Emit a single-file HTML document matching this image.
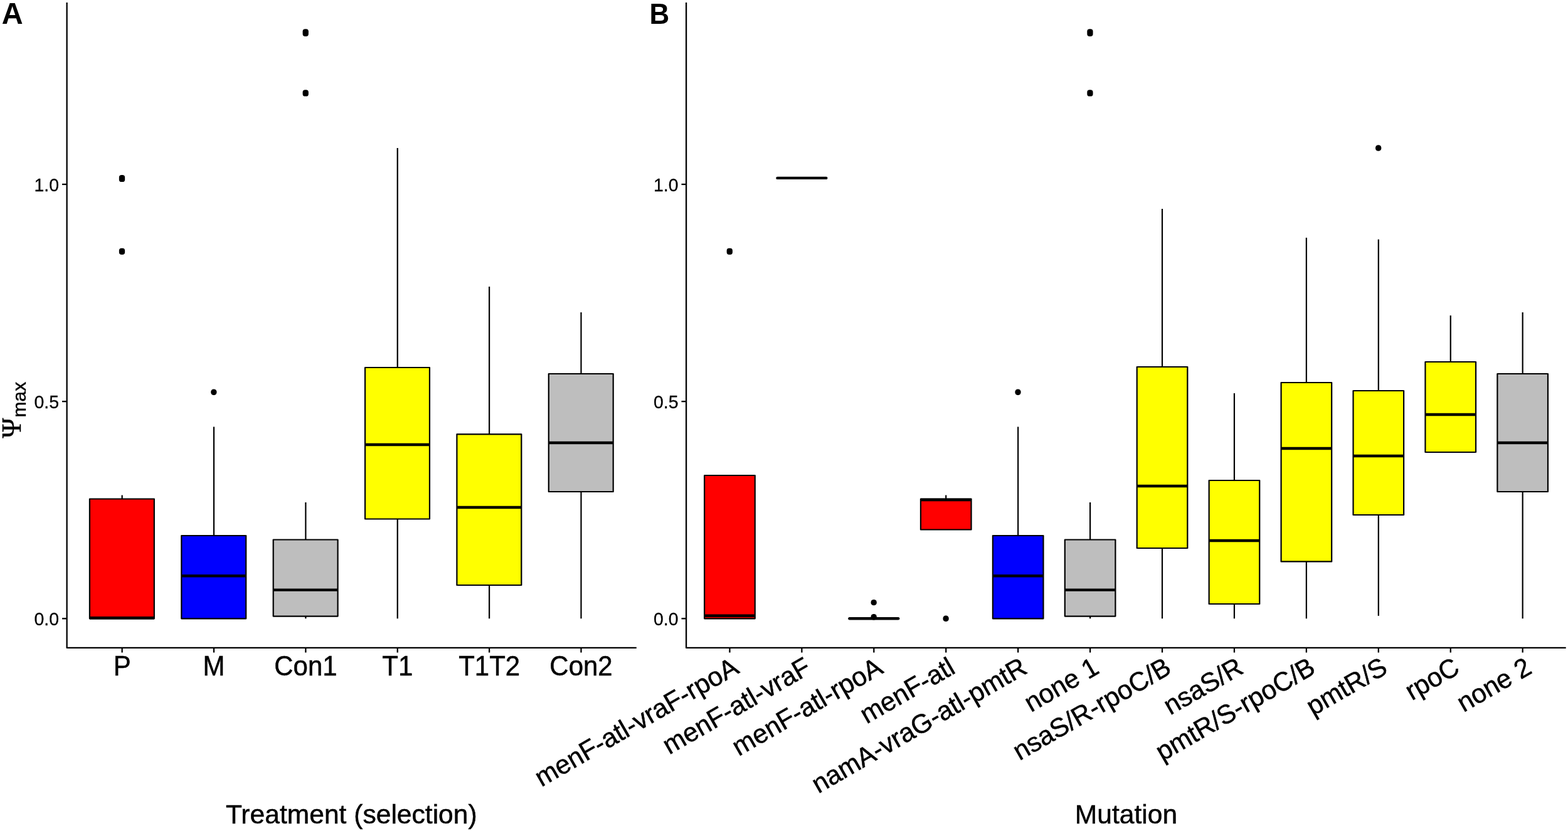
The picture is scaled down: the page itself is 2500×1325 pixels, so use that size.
<!DOCTYPE html>
<html lang="en">
<head>
<meta charset="utf-8">
<title>Figure: maximum Psi by treatment and by mutation</title>
<style>
html,body{margin:0;padding:0;background:#fff;}
body{width:2500px;height:1325px;overflow:hidden;}
svg{display:block;}
text{font-family:"Liberation Sans",sans-serif;fill:#000;}
.l{stroke:#000;stroke-width:2.2;fill:none;}
.b{stroke:#000;stroke-width:2.2;stroke-linejoin:round;}
.m{stroke:#000;stroke-width:4.4;}
.pt{fill:#000;}
.ax{stroke:#000;stroke-width:2.3;fill:none;stroke-linecap:butt;stroke-linejoin:round;}
.yt{font-size:28.5px;text-anchor:end;stroke:#000;stroke-width:0.25px;}
.xt{font-size:42.0px;text-anchor:middle;stroke:#000;stroke-width:0.5px;}
.xr{font-size:42.0px;text-anchor:end;stroke:#000;stroke-width:0.5px;}
.ttl{font-size:42.6px;text-anchor:middle;stroke:#000;stroke-width:0.5px;}
.tag{font-size:46.5px;font-weight:bold;}
.yl{text-anchor:middle;}
.psi{font-family:"Liberation Serif",serif;font-size:43.3px;stroke:#000;stroke-width:0.5px;}
.sub{font-size:30.0px;stroke:#000;stroke-width:0.4px;}
</style>
</head>
<body>
<svg width="2500" height="1325" viewBox="0 0 2500 1325">
<rect x="0" y="0" width="2500" height="1325" fill="#ffffff"/>

<g id="panelA">
<text class="tag" transform="translate(2.7,37.55) scale(1,1.012)" style="font-size:47px">A</text>
<polyline class="ax" points="106.65,4 106.65,1032.9 1014.8,1032.9"/>
<line class="ax" x1="99.05" y1="986.3" x2="106.65" y2="986.3"/>
<text class="yt" transform="translate(94.05,997.2) scale(1,1.015)">0.0</text>
<line class="ax" x1="99.05" y1="640.1" x2="106.65" y2="640.1"/>
<text class="yt" transform="translate(94.05,651) scale(1,1.015)">0.5</text>
<line class="ax" x1="99.05" y1="293.9" x2="106.65" y2="293.9"/>
<text class="yt" transform="translate(94.05,304.8) scale(1,1.015)">1.0</text>
<line class="ax" x1="194.65" y1="1032.9" x2="194.65" y2="1040.5"/>
<text class="xt" transform="translate(194.65,1077.2) scale(1,1.055)">P</text>
<line class="ax" x1="341.02" y1="1032.9" x2="341.02" y2="1040.5"/>
<text class="xt" transform="translate(341.02,1077.2) scale(1,1.055)">M</text>
<line class="ax" x1="487.39" y1="1032.9" x2="487.39" y2="1040.5"/>
<text class="xt" transform="translate(487.39,1077.2) scale(1,1.055)">Con1</text>
<line class="ax" x1="633.76" y1="1032.9" x2="633.76" y2="1040.5"/>
<text class="xt" transform="translate(633.76,1077.2) scale(1,1.055)">T1</text>
<line class="ax" x1="780.13" y1="1032.9" x2="780.13" y2="1040.5"/>
<text class="xt" transform="translate(780.13,1077.2) scale(1,1.055)">T1T2</text>
<line class="ax" x1="926.5" y1="1032.9" x2="926.5" y2="1040.5"/>
<text class="xt" transform="translate(926.5,1077.2) scale(1,1.055)">Con2</text>
<line x1="194.65" y1="789.5" x2="194.65" y2="795.5" class="l"/>
<rect x="142.95" y="795.5" width="102.9" height="190.8" fill="#ff0000" class="b"/>
<line x1="142.95" y1="985.2" x2="245.85" y2="985.2" class="m"/>
<rect x="189.85" y="279.1" width="9.3" height="11" rx="3.9" ry="3.9" class="pt"/>
<rect x="189.85" y="395.85" width="9.3" height="10.1" rx="3.9" ry="3.9" class="pt"/>
<line x1="341.02" y1="680.5" x2="341.02" y2="854" class="l"/>
<rect x="289.32" y="854" width="102.9" height="132.3" fill="#0000ff" class="b"/>
<line x1="289.32" y1="918.3" x2="392.22" y2="918.3" class="m"/>
<rect x="336.22" y="620.5" width="9.3" height="9.4" rx="4.3" ry="4.3" class="pt"/>
<line x1="487.39" y1="801" x2="487.39" y2="860.5" class="l"/>
<line x1="487.39" y1="982.6" x2="487.39" y2="986.3" class="l"/>
<rect x="435.69" y="860.5" width="102.9" height="122.1" fill="#bebebe" class="b"/>
<line x1="435.69" y1="940.6" x2="538.59" y2="940.6" class="m"/>
<rect x="482.59" y="46.3" width="9.3" height="11.6" rx="3.9" ry="3.9" class="pt"/>
<rect x="482.59" y="143.2" width="9.3" height="10.4" rx="3.9" ry="3.9" class="pt"/>
<line x1="633.76" y1="236" x2="633.76" y2="586" class="l"/>
<line x1="633.76" y1="827.5" x2="633.76" y2="986.3" class="l"/>
<rect x="582.06" y="586" width="102.9" height="241.5" fill="#ffff00" class="b"/>
<line x1="582.06" y1="709" x2="684.96" y2="709" class="m"/>
<line x1="780.13" y1="457" x2="780.13" y2="692.3" class="l"/>
<line x1="780.13" y1="933" x2="780.13" y2="986.3" class="l"/>
<rect x="728.43" y="692.3" width="102.9" height="240.7" fill="#ffff00" class="b"/>
<line x1="728.43" y1="809" x2="831.33" y2="809" class="m"/>
<line x1="926.5" y1="498" x2="926.5" y2="596" class="l"/>
<line x1="926.5" y1="784" x2="926.5" y2="986.3" class="l"/>
<rect x="874.8" y="596" width="102.9" height="188" fill="#bebebe" class="b"/>
<line x1="874.8" y1="706" x2="977.7" y2="706" class="m"/>
<text class="ttl" transform="translate(560.3,1313.2) scale(1,1.005)">Treatment (selection)</text>
<text class="psi" transform="translate(32.7,698.6) rotate(-90)">Ψ</text>
<text class="sub" transform="translate(40.6,665.4) rotate(-90)">max</text>
</g>
<g id="panelB">
<text class="tag" transform="translate(1035.4,37.75) scale(1,1.066)" style="font-size:43.9px">B</text>
<polyline class="ax" points="1094.1,4 1094.1,1032.9 2496.7,1032.9"/>
<line class="ax" x1="1086.5" y1="986.3" x2="1094.1" y2="986.3"/>
<text class="yt" transform="translate(1081.5,997.2) scale(1,1.015)">0.0</text>
<line class="ax" x1="1086.5" y1="640.1" x2="1094.1" y2="640.1"/>
<text class="yt" transform="translate(1081.5,651) scale(1,1.015)">0.5</text>
<line class="ax" x1="1086.5" y1="293.9" x2="1094.1" y2="293.9"/>
<text class="yt" transform="translate(1081.5,304.8) scale(1,1.015)">1.0</text>
<line class="ax" x1="1163.45" y1="1032.9" x2="1163.45" y2="1040.5"/>
<text class="xr" transform="translate(1180.45,1072) rotate(-30) scale(1,1.012)">menF-atl-vraF-rpoA</text>
<line class="ax" x1="1278.38" y1="1032.9" x2="1278.38" y2="1040.5"/>
<text class="xr" transform="translate(1295.38,1072) rotate(-30) scale(1,1.012)">menF-atl-vraF</text>
<line class="ax" x1="1393.31" y1="1032.9" x2="1393.31" y2="1040.5"/>
<text class="xr" transform="translate(1410.31,1072) rotate(-30) scale(1,1.012)">menF-atl-rpoA</text>
<line class="ax" x1="1508.24" y1="1032.9" x2="1508.24" y2="1040.5"/>
<text class="xr" transform="translate(1525.24,1072) rotate(-30) scale(1,1.012)">menF-atl</text>
<line class="ax" x1="1623.17" y1="1032.9" x2="1623.17" y2="1040.5"/>
<text class="xr" transform="translate(1640.17,1072) rotate(-30) scale(1,1.012)">namA-vraG-atl-pmtR</text>
<line class="ax" x1="1738.1" y1="1032.9" x2="1738.1" y2="1040.5"/>
<text class="xr" transform="translate(1755.1,1072) rotate(-30) scale(1,1.012)">none 1</text>
<line class="ax" x1="1853.03" y1="1032.9" x2="1853.03" y2="1040.5"/>
<text class="xr" transform="translate(1870.03,1072) rotate(-30) scale(1,1.012)">nsaS/R-rpoC/B</text>
<line class="ax" x1="1967.96" y1="1032.9" x2="1967.96" y2="1040.5"/>
<text class="xr" transform="translate(1984.96,1072) rotate(-30) scale(1,1.012)">nsaS/R</text>
<line class="ax" x1="2082.89" y1="1032.9" x2="2082.89" y2="1040.5"/>
<text class="xr" transform="translate(2099.89,1072) rotate(-30) scale(1,1.012)">pmtR/S-rpoC/B</text>
<line class="ax" x1="2197.82" y1="1032.9" x2="2197.82" y2="1040.5"/>
<text class="xr" transform="translate(2214.82,1072) rotate(-30) scale(1,1.012)">pmtR/S</text>
<line class="ax" x1="2312.75" y1="1032.9" x2="2312.75" y2="1040.5"/>
<text class="xr" transform="translate(2329.75,1072) rotate(-30) scale(1,1.012)">rpoC</text>
<line class="ax" x1="2427.68" y1="1032.9" x2="2427.68" y2="1040.5"/>
<text class="xr" transform="translate(2444.68,1072) rotate(-30) scale(1,1.012)">none 2</text>
<rect x="1123.15" y="758" width="80.6" height="228.3" fill="#ff0000" class="b"/>
<line x1="1123.15" y1="981.8" x2="1203.75" y2="981.8" class="m"/>
<rect x="1158.65" y="395.8" width="9.3" height="10.2" rx="3.9" ry="3.9" class="pt"/>
<line x1="1239.48" y1="283.9" x2="1317.28" y2="283.9" class="m" stroke-linecap="round"/>
<line x1="1354.41" y1="986.3" x2="1432.21" y2="986.3" class="m" stroke-linecap="round"/>
<rect x="1388.51" y="955.9" width="9.3" height="9.4" rx="4.3" ry="4.3" class="pt"/>
<rect x="1388.51" y="979" width="9.3" height="9.4" rx="4.3" ry="4.3" class="pt"/>
<line x1="1508.24" y1="789.5" x2="1508.24" y2="795.5" class="l"/>
<rect x="1467.94" y="795.5" width="80.6" height="49" fill="#ff0000" class="b"/>
<line x1="1467.94" y1="797" x2="1548.54" y2="797" class="m"/>
<rect x="1503.44" y="981.6" width="9.3" height="9.4" rx="4.3" ry="4.3" class="pt"/>
<line x1="1623.17" y1="680.5" x2="1623.17" y2="854" class="l"/>
<rect x="1582.87" y="854" width="80.6" height="132.3" fill="#0000ff" class="b"/>
<line x1="1582.87" y1="918.3" x2="1663.47" y2="918.3" class="m"/>
<rect x="1618.37" y="620.5" width="9.3" height="9.4" rx="4.3" ry="4.3" class="pt"/>
<line x1="1738.1" y1="801" x2="1738.1" y2="860.5" class="l"/>
<line x1="1738.1" y1="982.6" x2="1738.1" y2="986.3" class="l"/>
<rect x="1697.8" y="860.5" width="80.6" height="122.1" fill="#bebebe" class="b"/>
<line x1="1697.8" y1="940.6" x2="1778.4" y2="940.6" class="m"/>
<rect x="1733.3" y="46.3" width="9.3" height="11.6" rx="3.9" ry="3.9" class="pt"/>
<rect x="1733.3" y="143.2" width="9.3" height="10.4" rx="3.9" ry="3.9" class="pt"/>
<line x1="1853.03" y1="333" x2="1853.03" y2="585" class="l"/>
<line x1="1853.03" y1="874" x2="1853.03" y2="986.3" class="l"/>
<rect x="1812.73" y="585" width="80.6" height="289" fill="#ffff00" class="b"/>
<line x1="1812.73" y1="775" x2="1893.33" y2="775" class="m"/>
<line x1="1967.96" y1="627" x2="1967.96" y2="766" class="l"/>
<line x1="1967.96" y1="963" x2="1967.96" y2="986.3" class="l"/>
<rect x="1927.66" y="766" width="80.6" height="197" fill="#ffff00" class="b"/>
<line x1="1927.66" y1="862" x2="2008.26" y2="862" class="m"/>
<line x1="2082.89" y1="379" x2="2082.89" y2="610" class="l"/>
<line x1="2082.89" y1="895.4" x2="2082.89" y2="986.3" class="l"/>
<rect x="2042.59" y="610" width="80.6" height="285.4" fill="#ffff00" class="b"/>
<line x1="2042.59" y1="715" x2="2123.19" y2="715" class="m"/>
<line x1="2197.82" y1="381.7" x2="2197.82" y2="623" class="l"/>
<line x1="2197.82" y1="821" x2="2197.82" y2="981.9" class="l"/>
<rect x="2157.52" y="623" width="80.6" height="198" fill="#ffff00" class="b"/>
<line x1="2157.52" y1="727" x2="2238.12" y2="727" class="m"/>
<rect x="2193.02" y="231.3" width="9.3" height="9.4" rx="4.3" ry="4.3" class="pt"/>
<line x1="2312.75" y1="503" x2="2312.75" y2="577" class="l"/>
<rect x="2272.45" y="577" width="80.6" height="144" fill="#ffff00" class="b"/>
<line x1="2272.45" y1="661" x2="2353.05" y2="661" class="m"/>
<line x1="2427.68" y1="498" x2="2427.68" y2="596" class="l"/>
<line x1="2427.68" y1="784" x2="2427.68" y2="986.3" class="l"/>
<rect x="2387.38" y="596" width="80.6" height="188" fill="#bebebe" class="b"/>
<line x1="2387.38" y1="706" x2="2467.98" y2="706" class="m"/>
<text class="ttl" transform="translate(1795.4,1313.2) scale(1,1.005)">Mutation</text>
</g>
</svg>
</body>
</html>
